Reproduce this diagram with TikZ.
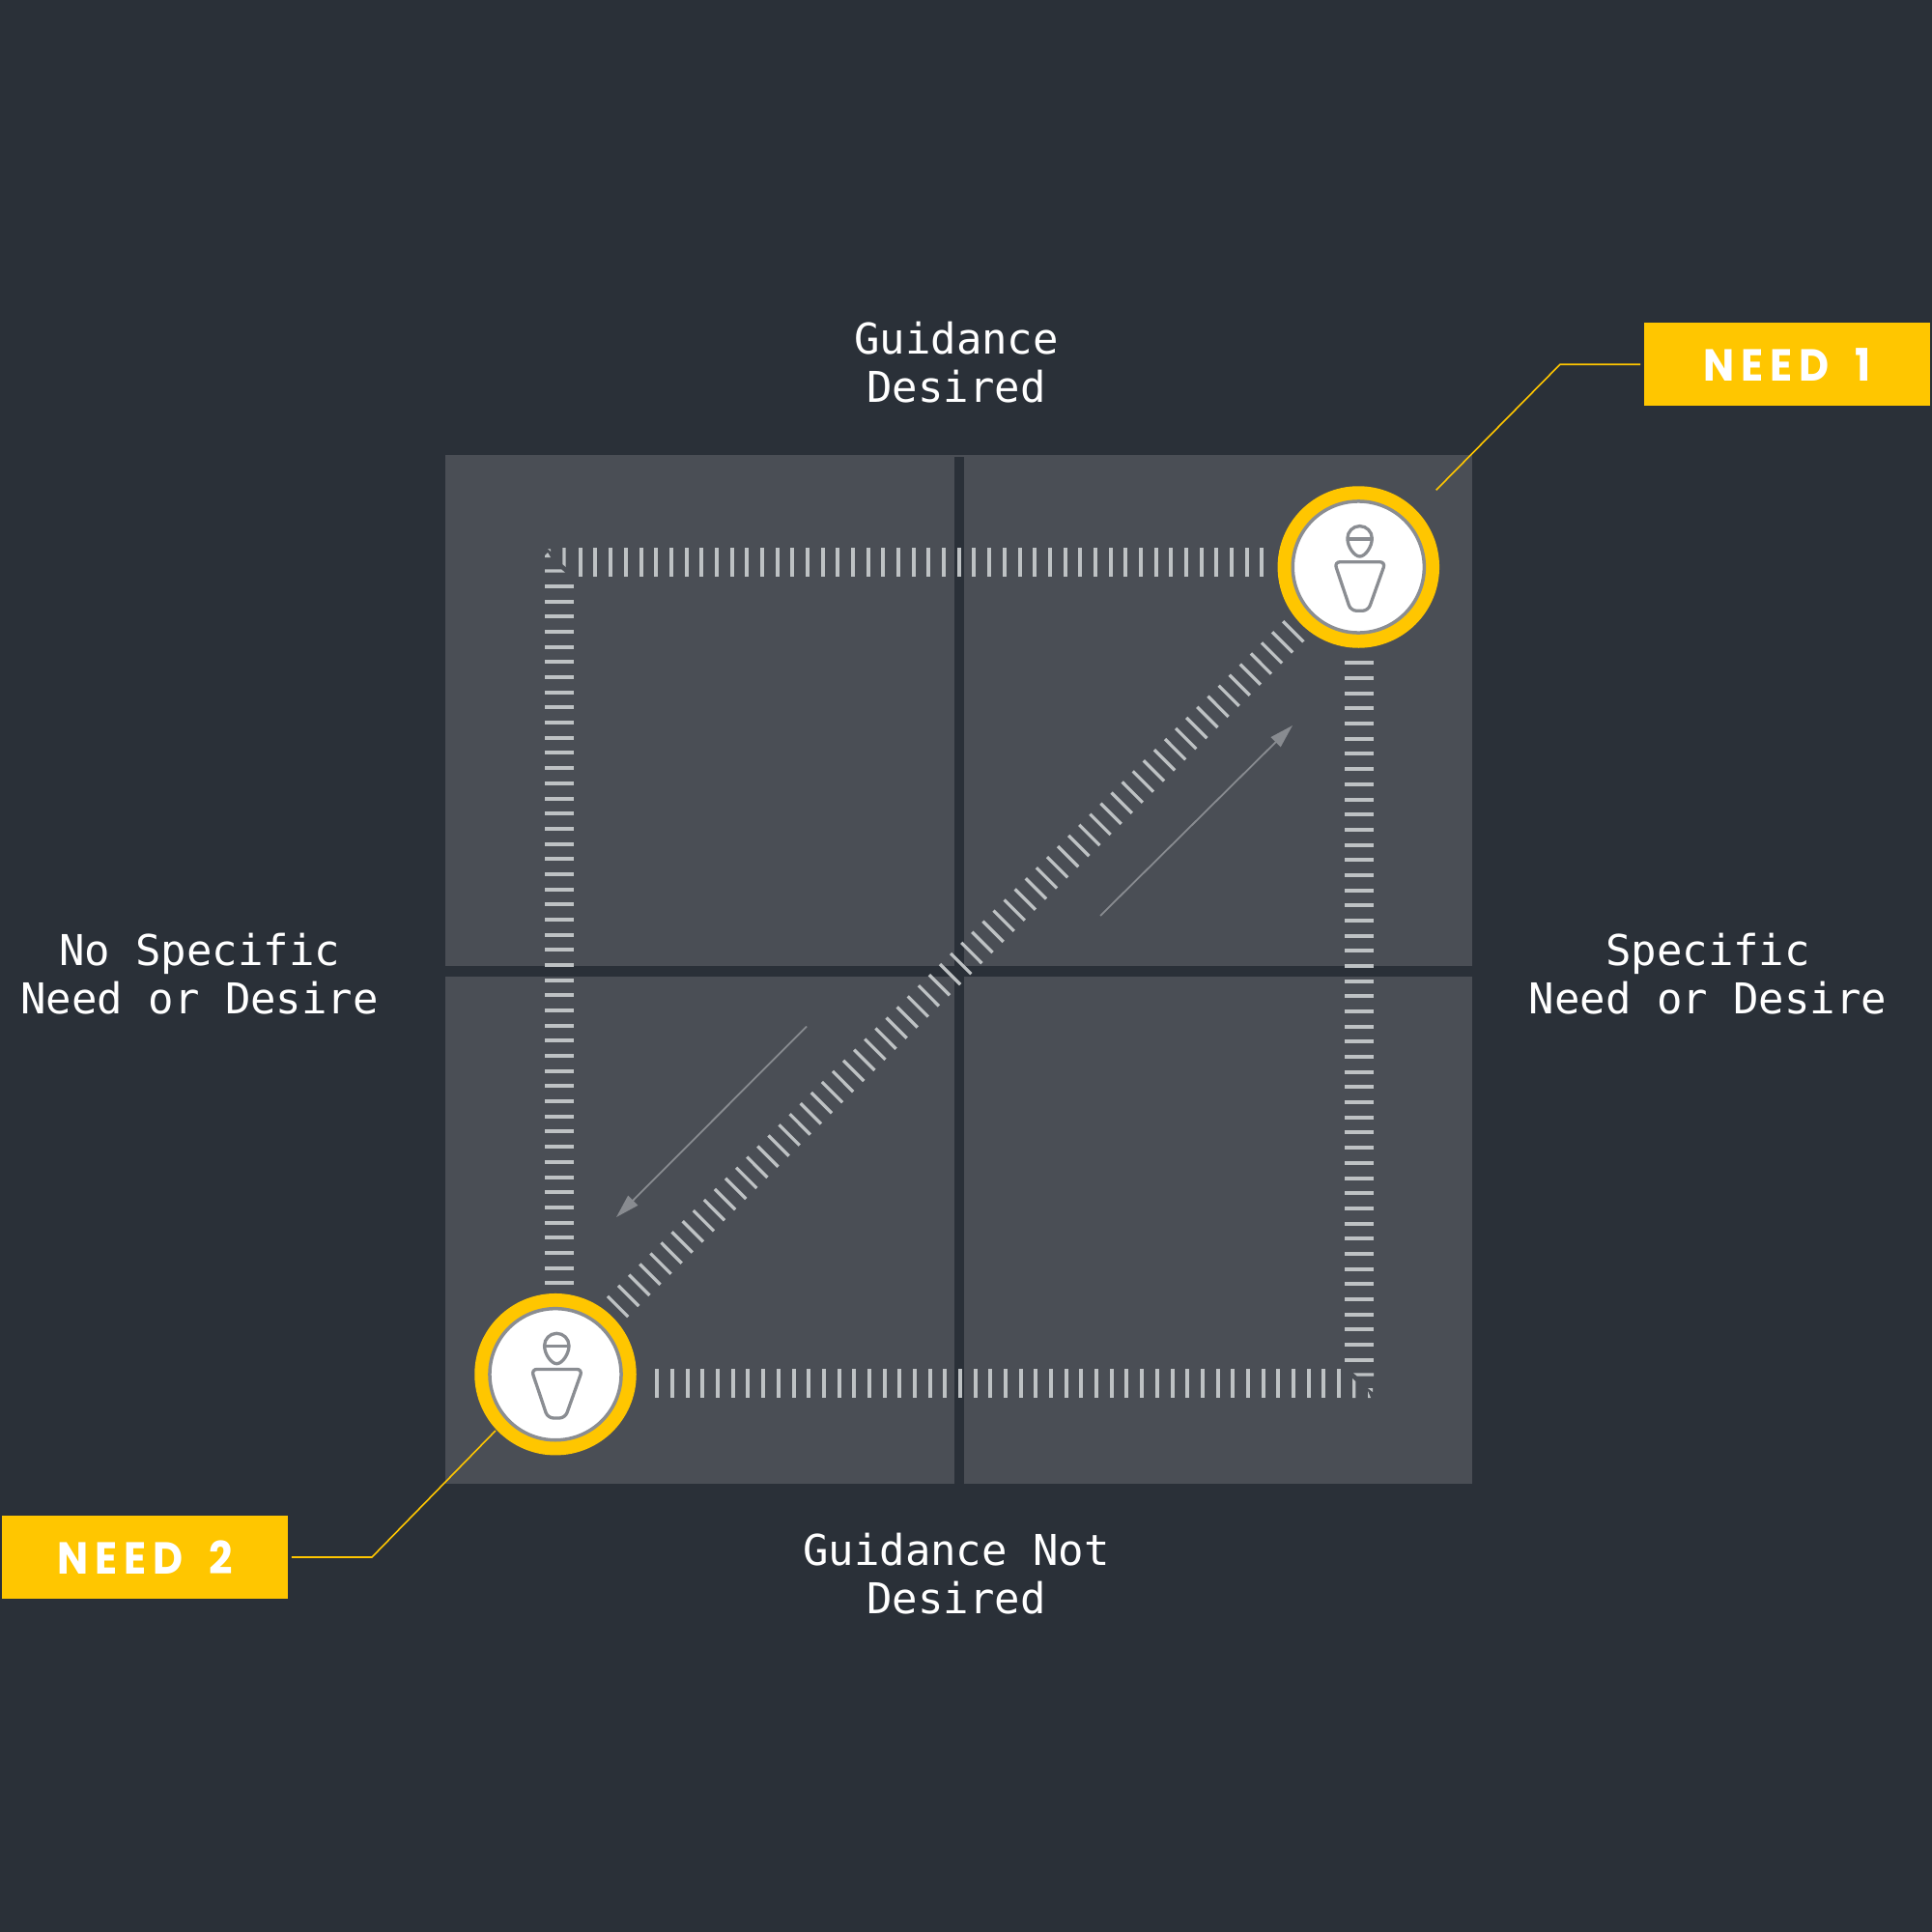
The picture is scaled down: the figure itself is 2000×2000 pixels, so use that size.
\documentclass[tikz,border=0pt]{standalone}
\usepackage{fontspec}
\usetikzlibrary{arrows.meta}
\newfontfamily\axisfont{DejaVu Sans Mono}
\newfontfamily\needfont[LetterSpace=15,FakeStretch=0.92,WordSpace=1.7]{Poppins}

\definecolor{bgdark}{HTML}{2A3038}
\definecolor{panelgrey}{HTML}{4A4E55}
\definecolor{tickgrey}{HTML}{BEC2C4}
\definecolor{needyellow}{HTML}{FFC600}
\definecolor{icongrey}{HTML}{8A8D92}
\definecolor{arrowgrey}{HTML}{888B90}

\tikzset{
  ticks/.style={draw=tickgrey,line width=3mm,dash pattern=on 0.33mm off 1.238mm},
  axislabel/.style={text=white,align=center,font=\fontsize{12.5}{14}\selectfont\axisfont},
  needbox/.style={fill=needyellow,text=white,inner sep=0pt,minimum width=29.6mm,minimum height=8.57mm,font=\fontsize{13.2}{15}\selectfont\needfont\bfseries},
  needring/.style={circle,fill=needyellow,inner sep=0pt,minimum size=16.74mm},
  needface/.style={circle,draw=icongrey,fill=white,line width=0.35mm,inner sep=0pt,minimum size=13.6mm},
  leader/.style={draw=needyellow,line width=0.16mm},
  flow/.style={draw=arrowgrey,line width=0.18mm,-{Triangle[length=2.45mm,width=1.4mm]}},
  person/.pic={
    \draw[icongrey,line width=0.33mm,line join=round]
      (-11.4,-29.7) arc[start angle=180,end angle=360,radius=12.7]
      .. controls (14,-21) and (7,-11) .. (1.3,-11) .. controls (-4.4,-11) and (-11.4,-21) .. cycle;
    \draw[icongrey,line width=0.33mm] (-11.4,-29) -- (14,-29);
    \draw[icongrey,line width=0.33mm,rounded corners=0.6mm]
      (-25,-5.3) -- (28,-5.3) -- (10,45.3) -- (-8,45.3) -- cycle;
  }
}

\begin{document}
\begin{tikzpicture}[x=0.01cm,y=-0.01cm]

% ground and the four quadrants
\fill[bgdark] (0,0) rectangle (2000,2000);
\fill[panelgrey] (461,471) rectangle (1524,1536);
\fill[bgdark] (988,473) rectangle (998,1536);
\fill[bgdark] (461,1000) rectangle (1524,1011);

% hatched routes
\foreach \k in {0,...,45}
  \fill[tickgrey] ({round(1304.4-15.68*\k)+0.35},567) rectangle +(3.3,30);
\foreach \k in {0,...,46}
  \fill[tickgrey] (564,{round(605+15.68*\k)+0.35}) rectangle +(30,3.3);
\foreach \k in {0,...,46}
  \fill[tickgrey] (1392,{round(684.4+15.68*\k)+0.35}) rectangle +(30,3.3);
\foreach \k in {0,...,45}
  \fill[tickgrey] ({round(1384-15.68*\k)+0.35},1417) rectangle +(3.3,30);
\draw[ticks] (1339.9,652.6) -- (637.5,1354.5);

% corner bits
\fill[tickgrey] (582.3,567) -- (585.7,567) -- (585.7,587) -- (582.3,584) -- cycle;
\fill[tickgrey] (564,589.3) -- (581,589.3) -- (585,592.7) -- (564,592.7) -- cycle;
\fill[tickgrey] (567,568) -- (570,568.5) -- (570,571) -- cycle;
\fill[tickgrey] (564,575) -- (567,572) -- (570,577) -- (564,577) -- cycle;
\fill[tickgrey] (1401,1421.3) -- (1422,1421.3) -- (1422,1424.7) -- (1405,1424.7) -- cycle;
\fill[tickgrey] (1400,1427) -- (1403.3,1430) -- (1403.3,1447) -- (1400,1447) -- cycle;
\fill[tickgrey] (1416,1437) -- (1421,1437) -- (1421,1441) -- cycle;
\fill[tickgrey] (1416,1440) -- (1419,1447) -- (1416,1447) -- cycle;

% direction arrows
\coordinate (flowAs) at (1139,948);
\coordinate (flowAe) at (1338,751);
\coordinate (flowBs) at (835,1062.5);
\coordinate (flowBe) at (638,1260);
\draw[flow] (flowAs) -- (flowAe);
\draw[flow] (flowBs) -- (flowBe);

% the two needs
\node[needring] (needA) at (1406.3,587) {};
\node[needface] at (needA) {};
\pic at (needA) {person};
\node[needring] (needB) at (575,1422.7) {};
\node[needface] at (needB) {};
\pic at (needB) {person};

% callouts
\node[needbox] (boxA) at (1850,377.2) {NEED 1};
\node[needbox] (boxB) at (150,1612) {NEED 2};
\coordinate (bendA) at (1615,377.2);
\coordinate (tipA) at (1486.7,507.3);
\coordinate (bendB) at (385,1612);
\coordinate (tipB) at (513,1481);
\draw[leader,shorten <=0.3mm] (boxA.west) -- (bendA) -- (tipA);
\draw[leader,shorten <=0.3mm] (boxB.east) -- (bendB) -- (tipB);

% axis texts
\node[axislabel] (top) at (990,375) {Guidance\\Desired};
\node[axislabel] (bottom) at (990,1629) {Guidance Not\\Desired};
\node[axislabel] (left) at (206.6,1008) {No Specific\\Need or Desire};
\node[axislabel] (right) at (1768,1008) {Specific\\Need or Desire};

\end{tikzpicture}
\end{document}
